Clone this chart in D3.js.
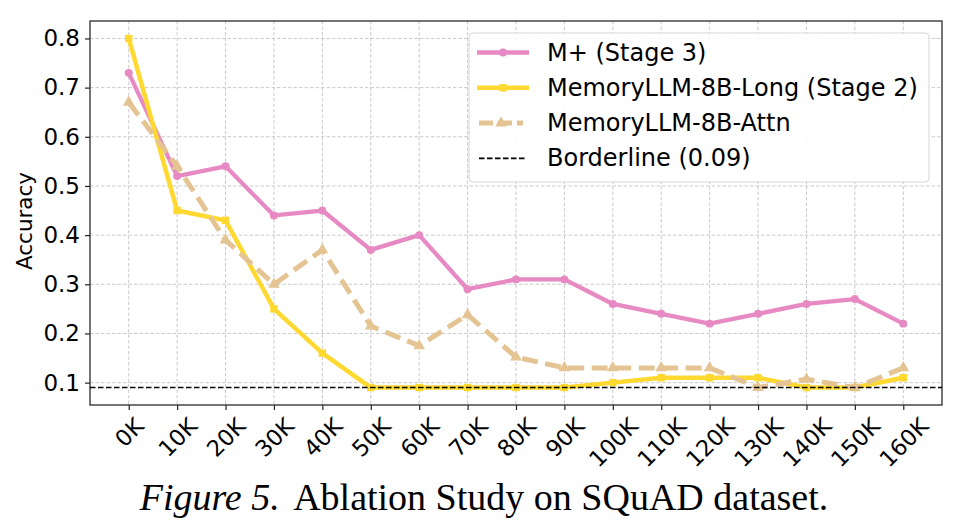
<!DOCTYPE html>
<html>
<head>
<meta charset="utf-8">
<script src="https://cdn.jsdelivr.net/npm/d3@7"></script>
<style>
  body { margin: 0; background: #fff; }
  svg { display: block; }
</style>
</head>
<body>
<svg id="chart" width="958" height="528"></svg>
<script>
// tick labels on the x axis (context length)
var contexts = ["0K", "10K", "20K", "30K", "40K", "50K", "60K", "70K", "80K",
    "90K", "100K", "110K", "120K", "130K", "140K", "150K", "160K"]

var mplus = [0.73, 0.52, 0.54, 0.44, 0.45, 0.37, 0.40, 0.29, 0.31, 0.31, 0.26,
    0.24, 0.22, 0.24, 0.26, 0.27, 0.22]
var memLong = [0.80, 0.45, 0.43, 0.25, 0.16, 0.09, 0.09, 0.09, 0.09, 0.09, 0.10,
    0.11, 0.11, 0.11, 0.09, 0.09, 0.11]
var memAttn = [0.67, 0.54, 0.39, 0.30, 0.37, 0.215, 0.175, 0.238, 0.152, 0.13, 0.13,
    0.13, 0.13, 0.09, 0.107, 0.09, 0.13]
var borderline = 0.09

var yTicks = [0.1, 0.2, 0.3, 0.4, 0.5, 0.6, 0.7, 0.8]

var series = [
    {name: "M+ (Stage 3)", values: mplus, color: "#e78ac3", marker: "circle", dash: null, width: 4.3},
    {name: "MemoryLLM-8B-Long (Stage 2)", values: memLong, color: "#ffd92f", marker: "square", dash: null, width: 4.5},
    {name: "MemoryLLM-8B-Attn", values: memAttn, color: "#e5c494", marker: "triangle", dash: "16,7.5", width: 5}
]

var svg = d3.select("#chart")
const margins = {top: 21, right: 16, bottom: 123, left: 90}
var width = 958 - margins.left - margins.right
var height = 528 - margins.top - margins.bottom

var xScale = d3.scalePoint()
    .domain(contexts)
    .range([0, width])
    .padding(0.8)

// matplotlib style 5% margin around the data
var yMin = 0.09, yMax = 0.80
var pad = (yMax - yMin) * 0.05
var yScale = d3.scaleLinear()
    .domain([yMin - pad, yMax + pad])
    .range([height, 0])

var plot = svg.append("g")
    .attr("transform", "translate(" + margins.left + "," + margins.top + ")")

// grid
plot.append("g").selectAll("line.vgrid")
    .data(contexts).enter()
    .append("line")
    .attr("x1", d => xScale(d)).attr("x2", d => xScale(d))
    .attr("y1", 0).attr("y2", height)
    .attr("stroke", "#c4c4c4").attr("stroke-width", 0.9)
    .attr("stroke-dasharray", "3.5,2")

plot.append("g").selectAll("line.hgrid")
    .data(yTicks).enter()
    .append("line")
    .attr("x1", 0).attr("x2", width)
    .attr("y1", d => yScale(d)).attr("y2", d => yScale(d))
    .attr("stroke", "#c4c4c4").attr("stroke-width", 0.9)
    .attr("stroke-dasharray", "3.5,2")

// axes
var xAxis = d3.axisBottom(xScale).tickSize(5).tickPadding(6)
var yAxis = d3.axisLeft(yScale).tickValues(yTicks).tickSize(5).tickPadding(5)
    .tickFormat(d3.format(".1f"))

var gx = plot.append("g").attr("transform", "translate(0," + height + ")").call(xAxis)
var gy = plot.append("g").call(yAxis)
gx.select(".domain").remove()
gy.select(".domain").remove()
gx.selectAll(".tick line").attr("stroke", "#222").attr("stroke-width", 1.2)
gy.selectAll(".tick line").attr("stroke", "#222").attr("stroke-width", 1.2)

gy.selectAll(".tick text")
    .attr("font-family", "DejaVu Sans").attr("font-size", 23).attr("fill", "#000")

// rotated x labels, centred on the tick like matplotlib ha='center'
var xFont = 22.5
gx.selectAll(".tick text")
    .attr("font-family", "DejaVu Sans").attr("font-size", xFont).attr("fill", "#000")
    .attr("text-anchor", "middle").attr("dy", null)
    .each(function() {
        var t = d3.select(this)
        var w = this.getComputedTextLength()
        var h = xFont * 0.75
        var boxH = (w + h) * Math.SQRT1_2
        var cy = 11 + boxH / 2
        t.attr("x", 0).attr("y", cy)
            .attr("dominant-baseline", "central")
            .attr("transform", "rotate(-45,0," + cy + ")")
    })

// frame
plot.append("rect")
    .attr("x", 0).attr("y", 0).attr("width", width).attr("height", height)
    .attr("fill", "none").attr("stroke", "#2a2a2a").attr("stroke-width", 1.3)

plot.append("text")
    .attr("transform", "translate(" + (-58) + "," + (height / 2 + 8) + ") rotate(-90)")
    .attr("text-anchor", "middle")
    .attr("font-family", "DejaVu Sans").attr("font-size", 21.5)
    .text("Accuracy")

var line = d3.line()
    .x((d, i) => xScale(contexts[i]))
    .y(d => yScale(d))

var symbols = {circle: d3.symbolCircle, square: d3.symbolSquare, triangle: d3.symbolTriangle}
var symbolSize = {circle: 50, square: 55, triangle: 60}

var plotArea = plot.append("g")
series.forEach(function(s) {
    plotArea.append("path")
        .datum(s.values)
        .attr("fill", "none")
        .attr("stroke", s.color)
        .attr("stroke-width", s.width)
        .attr("stroke-dasharray", s.dash)
        .attr("stroke-linejoin", "round")
        .attr("d", line)
    plotArea.selectAll(null)
        .data(s.values).enter()
        .append("path")
        .attr("d", d3.symbol().type(symbols[s.marker]).size(symbolSize[s.marker]))
        .attr("fill", s.color)
        .attr("transform", (d, i) => "translate(" + xScale(contexts[i]) + "," + yScale(d) + ")")
})

plotArea.append("line")
    .attr("x1", 0).attr("x2", width)
    .attr("y1", yScale(borderline)).attr("y2", yScale(borderline))
    .attr("stroke", "#000").attr("stroke-width", 1.6)
    .attr("stroke-dasharray", "5.5,2.5")

// legend
var legend = svg.append("g").attr("transform", "translate(469,33)")
legend.append("rect")
    .attr("width", 460).attr("height", 149).attr("rx", 4)
    .attr("fill", "#fff").attr("fill-opacity", 0.9)
    .attr("stroke", "#d6d6d6").attr("stroke-width", 1)

var legendItems = series.concat([{name: "Borderline (0.09)", color: "#000", marker: null, dash: "5.5,2.5", width: 1.6}])
legendItems.forEach(function(s, i) {
    var row = legend.append("g").attr("transform", "translate(0," + (19.5 + i * 35.3) + ")")
    var x0 = s.marker == "triangle" || s.marker == null ? 10 : 8
    var x1 = s.marker == "triangle" ? 54 : (s.marker == null ? 58 : 60)
    row.append("line")
        .attr("x1", x0).attr("x2", x1).attr("y1", 0).attr("y2", 0)
        .attr("stroke", s.color).attr("stroke-width", s.width)
        .attr("stroke-dasharray", s.marker == "triangle" ? "14,5" : s.dash)
    if (s.marker) {
        row.append("path")
            .attr("d", d3.symbol().type(symbols[s.marker]).size(symbolSize[s.marker]))
            .attr("fill", s.color)
            .attr("transform", "translate(" + ((x0 + x1) / 2) + ",0)")
    }
    row.append("text")
        .attr("x", 78).attr("y", 0)
        .attr("dominant-baseline", "central")
        .attr("font-family", "DejaVu Sans").attr("font-size", 24)
        .text(s.name)
})

// caption
var caption = svg.append("text")
    .attr("x", 484).attr("y", 510)
    .attr("text-anchor", "middle")
    .attr("font-family", "Liberation Serif").attr("font-size", 38)
caption.append("tspan").attr("font-style", "italic").text("Figure 5.")
caption.append("tspan").attr("dx", 6).text(" Ablation Study on SQuAD dataset.")
</script>
</body>
</html>
